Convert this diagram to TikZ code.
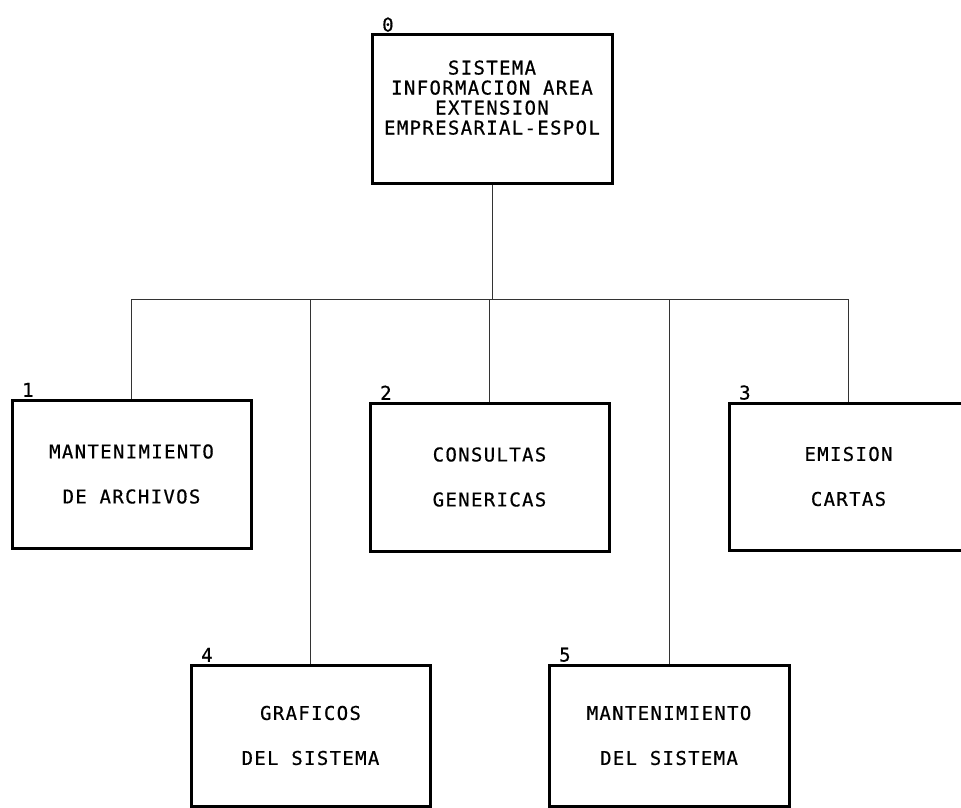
\documentclass[tikz,border=0pt]{standalone}
\usepackage{fontspec}
\newfontfamily\dotfont[LetterSpace=7, FakeBold=0.6]{DejaVu Sans Mono}
\usepackage{tikz}
\tikzset{
    box/.style={shape=rectangle, draw=black, line width=3pt, minimum width=239pt, minimum height=148pt,
                align=center, font=\dotfont\fontsize{19}{45}\selectfont},
    num/.style={anchor=south west, xshift=10pt, inner sep=1.5pt, font=\dotfont\fontsize{19}{20}\selectfont},
    link/.style={draw=black!80, line width=0.9pt}}

\begin{document}
\begin{tikzpicture}[x=1pt, y=-1pt]

                    \useasboundingbox (0,0) rectangle (961,808);
                    \clip (0,0) rectangle (961,808);

                    \node[box, minimum width=240pt, font=\dotfont\fontsize{19}{20}\selectfont, label={[num]north west:0}] (root) at (492,109) {SISTEMA\\INFORMACION AREA\\EXTENSION\\EMPRESARIAL-ESPOL\\[3pt]\mbox{}};
                    \node[box, label={[num]north west:1}] (archivos) at (131.5,474) {MANTENIMIENTO\\DE ARCHIVOS};
                    \node[box, label={[num]north west:2}] (consultas) at (489.5,477) {CONSULTAS\\GENERICAS};
                    \node[box, minimum height=147pt, label={[num]north west:3}] (cartas) at (848.5,476.5) {EMISION\\CARTAS};
                    \node[box, minimum height=141pt, label={[num]north west:4}] (graficos) at (310.5,735.5) {GRAFICOS\\DEL SISTEMA};
                    \node[box, minimum width=240pt, minimum height=141pt, label={[num]north west:5}] (sistema) at (669,735.5) {MANTENIMIENTO\\DEL SISTEMA};

                    \coordinate (busL) at (131.5,299);
                    \coordinate (busR) at (848.5,299);

                    \draw[link] (busL) -- (busR);
                    \draw[link] (root.south) -- (root.south |- busL);
                    \draw[link] (archivos.north) -- (archivos.north |- busL);
                    \draw[link] (graficos.north) -- (graficos.north |- busL);
                    \draw[link] (consultas.north) -- (consultas.north |- busL);
                    \draw[link] (sistema.north) -- (sistema.north |- busL);
                    \draw[link] (cartas.north) -- (cartas.north |- busL);

                \end{tikzpicture}
\end{document}
